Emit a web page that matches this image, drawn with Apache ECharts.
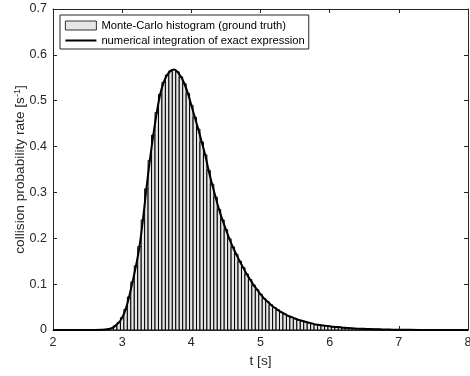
<!DOCTYPE html>
<html>
<head>
<meta charset="utf-8">
<script src="https://cdn.jsdelivr.net/npm/echarts@6/dist/echarts.min.js"></script>
<style>html,body{margin:0;padding:0;background:#fff}#c{width:470px;height:376px}</style>
</head>
<body>
<div id="c"></div>
<script>
// Histogram bins: centres start at binStart, spacing binWidth
var binStart = 2.75;
var binWidth = 0.05;
var histValues = [
  0.001, 0.002, 0.004, 0.009, 0.016, 0.027,
  0.045, 0.072, 0.105, 0.140, 0.182, 0.240, 0.308, 0.370, 0.425, 0.474,
  0.514, 0.540, 0.556, 0.565, 0.568, 0.563, 0.552, 0.537, 0.516, 0.490,
  0.464, 0.438, 0.410, 0.382, 0.348, 0.318, 0.290, 0.263, 0.240, 0.219,
  0.199, 0.181, 0.165, 0.150, 0.136, 0.122, 0.110, 0.098, 0.088, 0.078,
  0.069, 0.062, 0.055, 0.049, 0.044, 0.039, 0.035, 0.031, 0.028, 0.025,
  0.022, 0.020, 0.018, 0.016, 0.014, 0.012, 0.011, 0.010, 0.009, 0.008,
  0.007, 0.0065, 0.006, 0.005, 0.0045, 0.004, 0.0035, 0.003, 0.0028, 0.0025,
  0.0022, 0.002, 0.0018, 0.0015, 0.0013, 0.001, 0.0009, 0.0008, 0.0006, 0.0005
];
// Exact-expression curve samples (t, rate)
var curveT = [2.0, 2.3, 2.5, 2.6, 2.7];
var curveV = [0, 0, 0, 0, 0.0003];
var curveTailT = [7.3, 7.6, 8.0];
var curveTailV = [0.0002, 0.0001, 0];
var xTicks = [2, 3, 4, 5, 6, 7, 8];
var yTicks = [0, 0.1, 0.2, 0.3, 0.4, 0.5, 0.6, 0.7];

var histData = histValues.map(function (v, i) { return [binStart + i * binWidth, v]; });
var lineData = [];
curveT.forEach(function (t, i) { lineData.push([t, curveV[i]]); });
histData.forEach(function (d) { lineData.push([d[0], d[1]]); });
curveTailT.forEach(function (t, i) { lineData.push([t, curveTailV[i]]); });

var FONT = "'Liberation Sans', Arial, Helvetica, sans-serif";
var AX = '#262626';

function xAx(pos) {
  return {
    type: 'value', position: pos, min: xTicks[0], max: xTicks[xTicks.length - 1], interval: 1,
    axisLine: { show: true, onZero: false, lineStyle: { color: AX, width: 1 } },
    axisTick: { show: true, inside: true, length: 4, lineStyle: { color: AX } },
    axisLabel: { show: pos === 'bottom', margin: 6, color: AX, fontSize: 12.5, fontFamily: FONT,
      hideOverlap: false, showMinLabel: true, showMaxLabel: true },
    splitLine: { show: false },
    name: pos === 'bottom' ? 't [s]' : '', nameLocation: 'middle', nameGap: 24,
    nameMoveOverlap: false,
    nameTextStyle: { color: AX, fontSize: 13.7, fontFamily: FONT }
  };
}
function yAx(pos) {
  return {
    type: 'value', position: pos, min: yTicks[0], max: yTicks[yTicks.length - 1], interval: 0.1,
    axisLine: { show: true, onZero: false, lineStyle: { color: AX, width: 1 } },
    axisTick: { show: true, inside: true, length: 4, lineStyle: { color: AX } },
    axisLabel: { show: pos === 'left', margin: 6, color: AX, fontSize: 12.5, fontFamily: FONT,
      formatter: function (v) { return v === 0 ? '0' : v.toFixed(1); } },
    splitLine: { show: false },
    name: pos === 'left' ? 'collision probability rate [s{sup|-1}]' : '',
    nameLocation: 'middle', nameGap: 25,
    nameMoveOverlap: false,
    nameTextStyle: { color: AX, fontSize: 13.7, fontFamily: FONT,
      rich: { sup: { fontSize: 9, verticalAlign: 'top', color: AX, fontFamily: FONT, padding: [0, 0, 6, 0] } } }
  };
}

var chart = echarts.init(document.getElementById('c'), null, { renderer: 'canvas' });
chart.setOption({
  animation: false,
  backgroundColor: '#fff',
  grid: { left: 53, right: 2, top: 9, bottom: 46, containLabel: false, outerBoundsMode: 'none' },
  xAxis: [xAx('bottom'), xAx('top')],
  yAxis: [yAx('left'), yAx('right')],
  legend: {
    orient: 'vertical', left: 60, top: 15,
    padding: [5, 4, 3, 5], itemGap: 4, itemWidth: 31, itemHeight: 9,
    backgroundColor: '#fff', borderColor: AX, borderWidth: 1, borderRadius: 0,
    textStyle: { color: '#000', fontSize: 11.2, fontFamily: FONT },
    data: [
      { name: 'Monte-Carlo histogram (ground truth)', icon: 'rect',
        itemStyle: { color: '#e6e6e6', borderColor: '#000', borderWidth: 0.8 } },
      { name: 'numerical integration of exact expression',
        icon: 'path://M0,0 h0.1 v0.1 z M0,3.6 h31 v1.9 h-31 z M30.9,8.9 h0.1 v0.1 z',
        itemStyle: { color: '#000', borderWidth: 0 } }
    ]
  },
  series: [
    {
      name: 'Monte-Carlo histogram (ground truth)',
      type: 'custom', xAxisIndex: 0, yAxisIndex: 0, clip: true,
      itemStyle: { color: '#e6e6e6' },
      data: histData,
      renderItem: function (params, api) {
        var t = api.value(0), v = api.value(1);
        var p0 = api.coord([t - binWidth / 2, v]);
        var p1 = api.coord([t + binWidth / 2, 0]);
        return {
          type: 'rect',
          shape: { x: p0[0], y: p0[1], width: p1[0] - p0[0], height: p1[1] - p0[1] },
          style: { fill: '#e6e6e6', stroke: '#000', lineWidth: 1 }
        };
      }
    },
    {
      name: 'numerical integration of exact expression',
      type: 'line', xAxisIndex: 0, yAxisIndex: 0,
      data: lineData, smooth: 0.3, symbol: 'none', showSymbol: false,
      lineStyle: { color: '#000', width: 2 }, itemStyle: { color: '#000' },
      z: 5
    }
  ]
});
</script>
</body>
</html>
